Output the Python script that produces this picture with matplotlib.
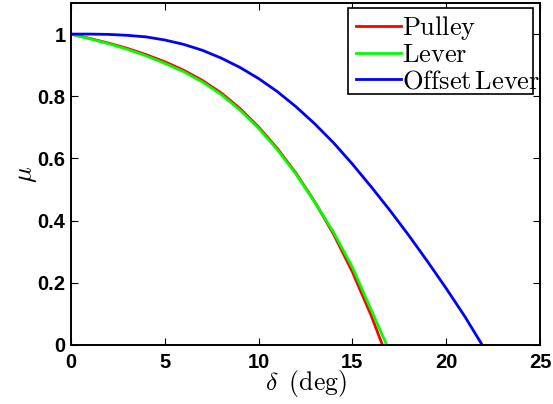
import matplotlib
matplotlib.use("Agg")
import matplotlib.pyplot as plt
from matplotlib.patches import Rectangle

plt.rcParams['mathtext.fontset'] = 'cm'

# Data
pulley_x = [0, 1, 2, 3, 4, 5, 6, 7, 8, 9, 10, 11, 12, 13, 14, 15, 16, 16.6]
pulley_y = [1.000, 0.986, 0.971, 0.954, 0.934, 0.911, 0.884, 0.851, 0.811, 0.761,
            0.701, 0.632, 0.552, 0.460, 0.356, 0.235, 0.095, 0.0]

lever_x = [0, 1, 2, 3, 4, 5, 6, 7, 8, 9, 10, 11, 12, 13, 14, 15, 16, 16.83]
lever_y = [1.000, 0.985, 0.969, 0.951, 0.930, 0.906, 0.879, 0.846, 0.806, 0.756,
           0.697, 0.628, 0.549, 0.459, 0.362, 0.250, 0.113, 0.0]

offset_x = [0, 1, 2, 3, 4, 5, 6, 7, 8, 9, 10, 11, 12, 13, 14, 15, 16, 17, 18, 19, 20, 21, 21.92]
offset_y = [1.000, 1.000, 0.999, 0.996, 0.991, 0.981, 0.967, 0.948, 0.923, 0.893, 0.857,
            0.815, 0.766, 0.711, 0.650, 0.582, 0.509, 0.433, 0.353, 0.269, 0.182, 0.091, 0.0]

labels = [r'$\mathrm{Pulley}$', r'$\mathrm{Lever}$', r'$\mathrm{Offset\,Lever}$']
xticks = [0, 5, 10, 15, 20, 25]
yticks = [0, 0.2, 0.4, 0.6, 0.8, 1]
ytick_labels = ['0', '0.2', '0.4', '0.6', '0.8', '1']

W, H = 553, 404
fig = plt.figure(figsize=(W / 100, H / 100), dpi=100)
ax = fig.add_axes([71 / W, 59 / H, 469 / W, 342 / H])

ax.plot(pulley_x, pulley_y, color='#ff0000', lw=2.0, label=labels[0])
ax.plot(lever_x, lever_y, color='#00ff00', lw=2.0, label=labels[1])
ax.plot(offset_x, offset_y, color='#0000ff', lw=2.0, label=labels[2])

ax.set_xlim(0, 25)
ax.set_ylim(0, 1.1)
ax.set_xticks(xticks)
ax.set_xticklabels([str(t) for t in xticks])
ax.set_yticks(yticks)
ax.set_yticklabels(ytick_labels)
ax.tick_params(direction='in', top=True, right=True, length=5, width=0.8,
               labelsize=14.5)
ax.tick_params(axis='x', pad=6)
ax.tick_params(axis='y', pad=4)
for lab in ax.get_xticklabels() + ax.get_yticklabels():
    lab.set_fontweight('bold')
    lab.set_family('Liberation Sans')
for s in ax.spines.values():
    s.set_linewidth(1.4)

ax.set_xlabel(r'$\delta\;\;(\mathrm{deg})$', fontsize=18.5, labelpad=-3)
ax.set_ylabel(r'$\mu$', fontsize=19, labelpad=-1)

# legend box (frame drawn separately so text can overflow like the original)
fig.patches.append(Rectangle((348 / W, 1 - 94 / H), (533 - 348) / W, (94 - 8) / H,
                             transform=fig.transFigure, fill=True, facecolor='white',
                             edgecolor='black', lw=1.2, zorder=5))
leg = fig.legend(loc='upper left', bbox_to_anchor=(351 / W, 1 - 9 / H),
                 bbox_transform=fig.transFigure, borderaxespad=0,
                 fontsize=19, frameon=False,
                 handlelength=1.7, handletextpad=0.05, labelspacing=0.0,
                 borderpad=0.2)
leg.set_zorder(6)

fig.savefig('out.png', dpi=100)
